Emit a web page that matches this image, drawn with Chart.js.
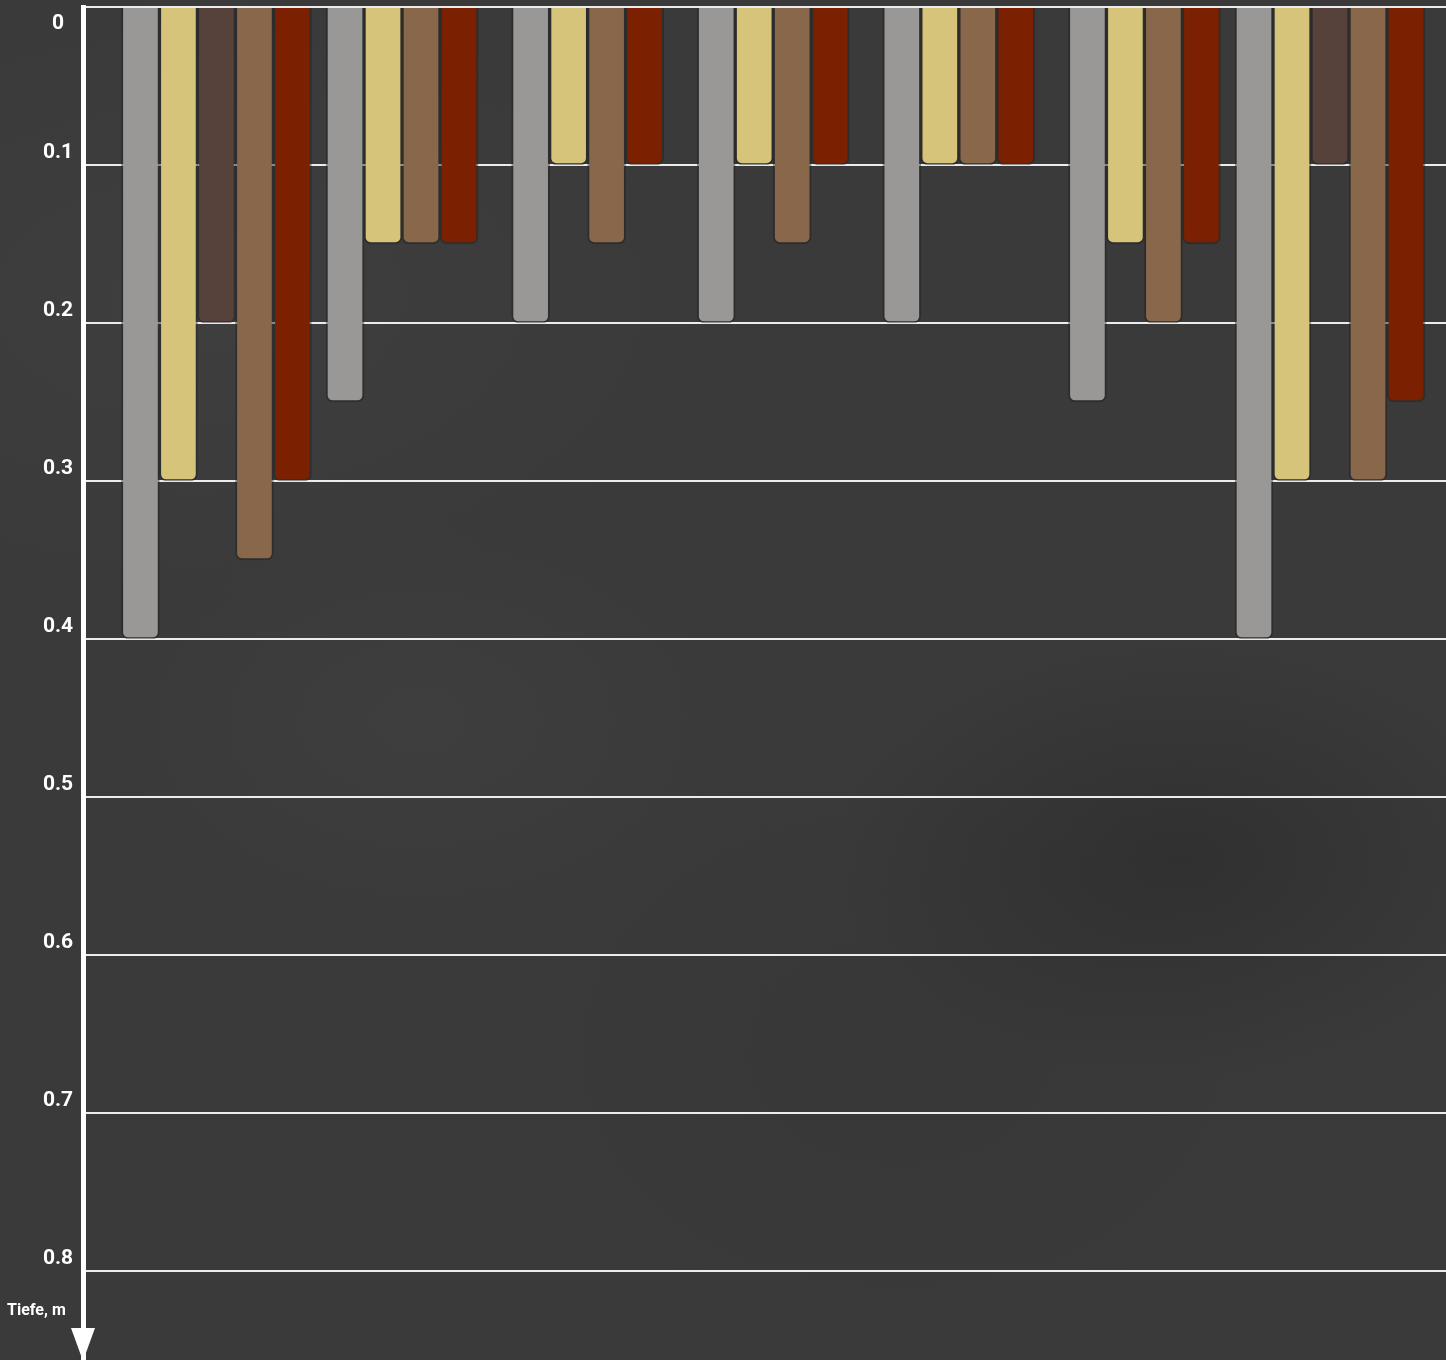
<!DOCTYPE html>
<html>
<head>
<meta charset="utf-8">
<script src="https://cdn.jsdelivr.net/npm/chart.js@4.4.1/dist/chart.umd.min.js"></script>
<style>
  html, body { margin: 0; padding: 0; }
  body {
    width: 1446px; height: 1360px; overflow: hidden;
    background-color: #3a3a3a;
    background-image:
      radial-gradient(ellipse 300px 200px at 420px 720px, rgba(70,70,70,0.35), rgba(0,0,0,0)),
      radial-gradient(ellipse 350px 220px at 1180px 860px, rgba(30,30,30,0.35), rgba(0,0,0,0)),
      radial-gradient(ellipse 400px 300px at 900px 1050px, rgba(50,50,50,0.3), rgba(0,0,0,0)),
      radial-gradient(ellipse 500px 300px at 200px 300px, rgba(75,75,75,0.25), rgba(0,0,0,0));
  }
  #wrap { position: absolute; left: 0; top: 0; width: 1446px; height: 1360px; }
</style>
</head>
<body>
<div id="wrap"><canvas id="c" width="1446" height="1360"></canvas></div>
<script>
// ---- data ----
const groups = ["1", "2", "3", "4", "5", "6", "7"];
const seriesNames = ["Grau", "Gelb", "Dunkelbraun", "Braun", "Rot"];
const grayValues       = [0.40, 0.25, 0.20, 0.20, 0.20, 0.25, 0.40];
const yellowValues     = [0.30, 0.15, 0.10, 0.10, 0.10, 0.15, 0.30];
const darkBrownValues  = [0.20, null, null, null, null, null, 0.10];
const brownValues      = [0.35, 0.15, 0.15, 0.15, 0.10, 0.20, 0.30];
const redValues        = [0.30, 0.15, 0.10, 0.10, 0.10, 0.15, 0.25];
const yTickValues = [0, 0.1, 0.2, 0.3, 0.4, 0.5, 0.6, 0.7, 0.8];
const yTickLabels = ["0", "0.1", "0.2", "0.3", "0.4", "0.5", "0.6", "0.7", "0.8"];
const axisTitle = "Tiefe, m";

// ---- styles ----
const colors = ["#9a9896", "#d6c47a", "#56423b", "#88674a", "#7b2000"];
const seriesValues = [grayValues, yellowValues, darkBrownValues, brownValues, redValues];

const datasets = seriesValues.map((vals, s) => ({
  label: seriesNames[s],
  data: vals.map((v, i) => ({ x: i, y: v })),
  backgroundColor: colors[s],
  borderColor: "rgba(30,30,30,0.45)",
  borderWidth: { left: 2, right: 2, bottom: 2, top: 0 },
  borderSkipped: "start",
  borderRadius: 7,
  barThickness: 38,
  skipNull: true
}));

const axisDecor = {
  id: "axisDecor",
  afterDraw(chart) {
    const ctx = chart.ctx;
    const ys = chart.scales.y;
    const ca = chart.chartArea;
    ctx.save();
    ctx.fillStyle = "#ffffff";
    ctx.font = "bold 21px Roboto";
    ctx.textAlign = "center";
    ctx.textBaseline = "middle";
    yTickValues.forEach((v, i) => {
      const p = ys.getPixelForValue(v);
      let ty = p - 12;
      if (ty < ca.top + 8) ty = p + 17;
      ctx.fillText(yTickLabels[i], 58, ty);
    });
    // arrow head
    const ax = ca.left;
    ctx.beginPath();
    ctx.moveTo(ax - 12, ca.bottom - 32);
    ctx.lineTo(ax + 12, ca.bottom - 32);
    ctx.lineTo(ax, ca.bottom + 1);
    ctx.closePath();
    ctx.fill();
    // axis title
    ctx.font = "bold 16px Roboto";
    ctx.textAlign = "left";
    ctx.fillText(axisTitle, 7, ca.bottom - 49);
    ctx.restore();
  }
};

new Chart(document.getElementById("c"), {
  type: "bar",
  data: { datasets },
  options: {
    responsive: false,
    devicePixelRatio: 1,
    animation: false,
    layout: { padding: { top: 7, left: 0, right: 0, bottom: 0 } },
    plugins: { legend: { display: false }, tooltip: { enabled: false } },
    scales: {
      x: {
        type: "linear",
        display: false,
        offset: false,
        min: -0.719,
        max: 6.625
      },
      y: {
        type: "linear",
        reverse: true,
        min: 0,
        max: 0.8563,
        afterFit(scale) { scale.width = 83; },
        afterBuildTicks(scale) { scale.ticks = yTickValues.map(v => ({ value: v })); },
        ticks: { display: false },
        grid: { color: "rgba(245,245,245,0.95)", lineWidth: 2, drawTicks: false },
        border: { display: true, color: "#ffffff", width: 5 }
      }
    }
  },
  plugins: [axisDecor]
});
</script>
</body>
</html>
